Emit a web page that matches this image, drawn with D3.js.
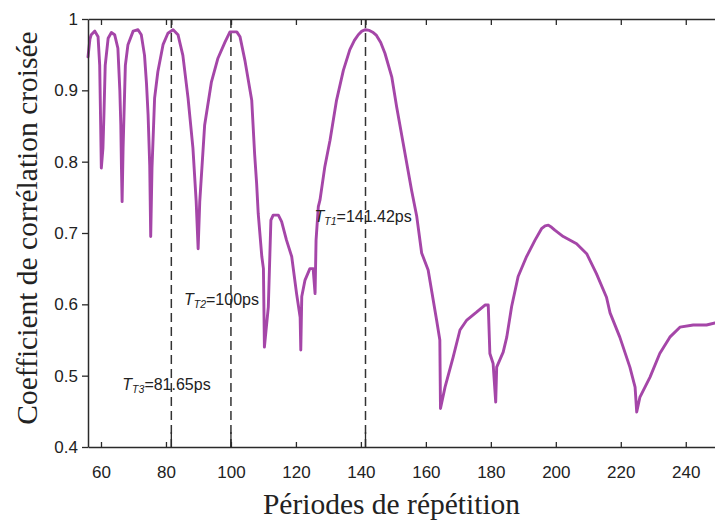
<!DOCTYPE html>
<html>
<head>
<meta charset="utf-8">
<script src="https://cdn.jsdelivr.net/npm/d3@7/dist/d3.min.js"></script>
<style>
  html, body { margin: 0; padding: 0; background: #fff; }
  svg { display: block; }
</style>
</head>
<body>
<svg id="chart" width="715" height="523"></svg>
<script>
// ---- data ----
const periods = [56.0,56.6,57.0,58.1,59.1,59.6,59.9,60.1,60.6,60.9,61.3,62.2,63.2,64.2,65.2,65.8,66.1,66.3,66.5,66.8,67.5,68.3,69.9,71.4,72.4,73.4,74.0,74.5,75.0,75.3,75.7,76.5,77.5,79.1,80.6,82.2,83.7,85.2,86.8,88.3,89.3,89.9,90.4,91.9,94.0,96.0,98.2,99.7,101.8,102.8,104.3,106.4,107.3,107.9,108.4,109.5,110.0,110.3,111.5,112.3,113.0,114.6,115.6,117.1,118.7,120.2,121.3,121.5,121.8,122.8,124.3,125.3,125.9,126.2,126.9,127.4,128.9,130.5,132.5,134.6,136.6,138.0,139.2,140.3,141.4,142.6,143.8,144.8,146.1,147.4,149.5,151.0,153.0,155.6,157.2,158.7,160.7,163.3,164.3,164.5,165.9,168.4,170.5,172.6,175.6,178.2,179.2,179.7,180.7,181.5,181.8,183.8,184.9,186.4,188.4,191.0,193.6,195.6,196.7,197.7,198.7,199.7,202.3,206.4,209.5,212.5,215.6,216.7,219.7,222.8,224.4,224.9,225.9,229.0,232.0,235.1,238.2,242.3,246.4,249.0];
const correlation = [0.947,0.972,0.978,0.983,0.975,0.935,0.851,0.791,0.819,0.865,0.935,0.973,0.981,0.978,0.959,0.900,0.851,0.791,0.744,0.819,0.935,0.964,0.983,0.985,0.978,0.949,0.910,0.865,0.795,0.695,0.791,0.889,0.926,0.964,0.980,0.985,0.978,0.949,0.889,0.819,0.744,0.678,0.744,0.851,0.912,0.945,0.968,0.982,0.982,0.975,0.942,0.886,0.810,0.770,0.727,0.667,0.650,0.540,0.596,0.718,0.725,0.725,0.716,0.690,0.667,0.615,0.582,0.536,0.611,0.634,0.650,0.650,0.615,0.690,0.737,0.746,0.793,0.830,0.886,0.928,0.957,0.970,0.978,0.983,0.985,0.984,0.981,0.977,0.967,0.952,0.919,0.877,0.826,0.760,0.723,0.672,0.648,0.578,0.550,0.454,0.484,0.526,0.564,0.578,0.589,0.599,0.599,0.531,0.517,0.463,0.512,0.533,0.554,0.597,0.639,0.667,0.690,0.706,0.710,0.711,0.708,0.704,0.695,0.685,0.671,0.643,0.610,0.588,0.554,0.512,0.484,0.449,0.470,0.498,0.531,0.554,0.568,0.571,0.571,0.574];
const xTicks = [60,80,100,120,140,160,180,200,220,240];
const yTicks = [0.4,0.5,0.6,0.7,0.8,0.9,1];
const markerPeriods = [81.65, 100, 141.42];
const markerSubs = ["T3", "T2", "T1"];
const markerValues = ["=81.65ps", "=100ps", "=141.42ps"];
const markerLabelPos = [[81.65, 0.480],[100, 0.599],[141.42, 0.716]]; // anchor (period, corr) for label placement
const xTitle = "Périodes de répétition";
const yTitle = "Coefficient de corrélation croisée";

// ---- layout ----
const svg = d3.select("#chart");
const L = 88, R = 715, T = 19, B = 447;
const x = d3.scaleLinear().domain([56, 249]).range([L, R]);
const y = d3.scaleLinear().domain([0.4, 1]).range([B, T]);
const axisColor = "#2a2a2a";
const sans = "'Liberation Sans', Arial, Helvetica, sans-serif";
const serif = "'Liberation Serif', 'Times New Roman', serif";

// dashed marker lines
svg.append("g").selectAll("line").data(markerPeriods).join("line")
  .attr("x1", d => x(d)).attr("x2", d => x(d))
  .attr("y1", T).attr("y2", B)
  .attr("stroke", "#333").attr("stroke-width", 1.5)
  .attr("stroke-dasharray", "9,5");

// curve
const line = d3.line().x((d, i) => x(periods[i])).y((d, i) => y(correlation[i]));
svg.append("path").datum(correlation)
  .attr("d", line).attr("fill", "none")
  .attr("stroke", "#a546a8").attr("stroke-width", 2.9)
  .attr("stroke-linejoin", "round").attr("stroke-linecap", "round");

// bottom axis
const gx = svg.append("g").attr("transform", `translate(0,${B})`)
  .call(d3.axisBottom(x).tickValues(xTicks).tickSizeInner(-5).tickSizeOuter(0).tickPadding(19).tickFormat(d3.format("d")));
gx.select(".domain").attr("stroke", axisColor).attr("stroke-width", 1.5);
gx.selectAll(".tick line").attr("stroke", axisColor).attr("stroke-width", 1.3);
gx.selectAll("text").attr("font-family", sans).attr("font-size", 17).attr("fill", "#222");
// long ticks at marker periods
gx.append("g").selectAll("line").data(markerPeriods).join("line")
  .attr("x1", d => x(d)).attr("x2", d => x(d)).attr("y1", 0).attr("y2", -15)
  .attr("stroke", axisColor).attr("stroke-width", 1.3);

// top axis
const gt = svg.append("g").attr("transform", `translate(0,${T})`)
  .call(d3.axisTop(x).tickValues(xTicks.concat(markerPeriods)).tickSizeInner(-6).tickSizeOuter(0).tickFormat(""));
gt.select(".domain").attr("stroke", axisColor).attr("stroke-width", 1.5);
gt.selectAll(".tick line").attr("stroke", axisColor).attr("stroke-width", 1.3);

// left axis
const gy = svg.append("g").attr("transform", `translate(${L},0)`)
  .call(d3.axisLeft(y).tickValues(yTicks).tickSizeInner(6).tickSizeOuter(0).tickPadding(4)
    .tickFormat(d => d === 1 ? "1" : d3.format(".1f")(d)));
gy.select(".domain").attr("stroke", axisColor).attr("stroke-width", 1.5);
gy.selectAll(".tick line").attr("stroke", axisColor).attr("stroke-width", 1.3);
gy.selectAll("text").attr("font-family", sans).attr("font-size", 17).attr("fill", "#222");

// marker annotations
const labelOffsets = [-49, -47, -51];
markerPeriods.forEach((p, i) => {
  const t = svg.append("text")
    .attr("x", x(markerLabelPos[i][0]) + labelOffsets[i])
    .attr("y", y(markerLabelPos[i][1]))
    .attr("font-family", sans).attr("font-size", 16).attr("fill", "#222");
  t.append("tspan").attr("font-style", "italic").text("T");
  t.append("tspan").attr("font-style", "italic").attr("font-size", 10.5).attr("dy", 3).text(markerSubs[i]);
  t.append("tspan").attr("dy", -3).text(markerValues[i]);
});

// axis titles
svg.append("text")
  .attr("x", (L + R) / 2 - 10).attr("y", 514)
  .attr("text-anchor", "middle")
  .attr("font-family", serif).attr("font-size", 29.5).attr("fill", "#222")
  .text(xTitle);
svg.append("text")
  .attr("transform", `translate(37,${228}) rotate(-90)`)
  .attr("text-anchor", "middle")
  .attr("font-family", serif).attr("font-size", 29.5).attr("fill", "#222")
  .text(yTitle);
</script>
</body>
</html>
